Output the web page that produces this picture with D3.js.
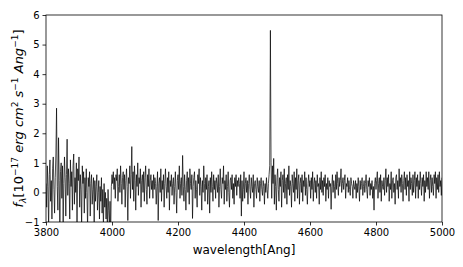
<!DOCTYPE html>
<html>
<head>
<meta charset="utf-8">
<script src="https://cdn.jsdelivr.net/npm/d3@7"></script>
<style>
body { margin: 0; background: #fff; }
text { font-family: "DejaVu Sans", sans-serif; fill: #000; }
</style>
</head>
<body>
<div id="chart-area"></div>
<script>
// Spectrum data (segments: start/end wavelength, flux)
var seg1Range = [3800, 3998];
var seg1Flux = [0.3, -0.5, 0.9, 0.2, -1.2, 0.6, 1.1, -0.3, 0.4, -0.9, 0.8, 1.2, 0.1, -0.7, 0.5, 1.3,
	2.85, 0.2, -0.6, 1.85, 0.4, -1.3, 0.7, 1.0, -0.2, 0.9, -1.1, 0.3, 1.2, 0.5, -0.8, 0.6,
	1.8, -0.1, 0.8, 0.3, -0.9, 1.1, 0.2, 0.7, -0.6, 0.9, 1.3, -0.4, 0.5, 0.0, 1.0, -1.3,
	0.8, 0.4, 1.2, -0.5, 0.6, 0.1, -1.1, 0.9, 0.3, 0.7, -0.7, 0.5, -0.2, 0.8, 0.0, -1.2,
	0.5, 0.2, 0.7, -0.8, 0.3, 0.6, -0.4, 0.1, 0.5, -1.0, 0.4, -0.3, 0.2, 0.6, -0.6, 0.0,
	0.4, -0.9, 0.2, -0.3, 0.5, -0.7, 0.1, -1.2, 0.3, -0.5, 0.0, -0.9, -0.2, -1.3, 0.1, -0.6, -1.1, -0.3, -1.4, 0.2];

var seg2Range = [4000, 4120];
var seg2Flux = [0.6, 0.3, 0.7, 0.1, 0.5, -0.2, 0.6, 0.4, 0.8, -0.3, 0.2, 0.6, 0.0, 0.9, 0.3, -0.4,
	0.5, 0.7, 0.1, 0.6, -0.5, 0.4, 0.8, 0.2, -0.95, 0.5, 0.3, 0.9, -0.2, 0.6, 1.55, 0.1,
	0.7, -0.3, 0.9, 0.4, -0.6, 0.6, 0.2, 1.0, -0.1, 0.5, 0.3, 0.8, -0.5, 0.4, 0.6, 0.0,
	0.7, -0.3, 0.5, 0.9, 0.1, -0.4, 0.6, 0.2, 0.8, -0.2, 0.4, 0.6, 0.1];

var seg3Range = [4122, 4476];
var seg3Flux = [0.4, -0.2, 0.6, 0.1, 0.5, 0.3, -0.4, 0.2, 0.7, -0.95, 0.3, 0.5, 0.0, 0.8, -0.3, 0.4,
	0.1, 0.6, -0.5, 0.3, 0.8, 0.2, -0.2, 0.5, 0.0, 0.7, -0.6, 0.4, 0.2, 0.6, -0.1, 0.3,
	0.5, -0.4, 0.2, 0.7, 0.0, -0.7, 0.4, 0.6, 0.1, 0.9, -0.2, 0.3, 0.5, -0.1, 1.25, 0.2,
	-0.3, 0.6, 0.1, -0.6, 0.4, 0.7, 0.0, 0.5, -0.4, 0.8, 0.3, 0.1, 0.6, -0.88, 0.2, 0.5,
	0.7, -0.2, 0.4, 0.1, -0.5, 0.6, 0.3, 0.8, -0.1, 0.5, 0.2, -0.6, 0.4, 0.0, 0.9, 0.3,
	-0.3, 0.5, 0.1, 0.6, -0.4, 0.2, 0.4, -0.7, 0.5, 0.0, 0.7, 0.2, -0.3, 0.6, 0.1, 0.4,
	-0.2, 0.5, 0.3, 0.0, 0.6, -0.5, 0.2, 0.8, 0.1, -0.2, 0.5, 0.3, 0.9, -0.4, 0.4, 0.1,
	0.6, -0.3, 0.2, 0.7, 0.0, -0.5, 0.4, 0.5, 0.1, 0.6, -0.2, 0.3, -0.4, 0.5, 0.2, 0.6,
	-0.1, 0.4, 0.2, 0.5, 0.3, -0.2, 0.6, -0.8, 0.4, -0.3, 0.1, 0.7, -0.2, 0.3, 0.5, 0.0,
	0.4, -0.4, 0.3, 0.6, 0.1, -0.2, 0.5, 0.2, 0.0, 0.6, -0.5, 0.3, 0.4, 0.1, -0.2, 0.5,
	0.2, 0.0, 0.4, -0.3, 0.3, 0.5, 0.1, -0.1, 0.4, 0.2, -0.4, 0.3, 0.0, 0.5, 0.1, -0.2, 0.3, 0.6];

var seg4Range = [4478, 5000];
var seg4Flux = [0.9, 5.48, 1.0, -0.2, 0.9, 0.3, 1.15, -0.4, 0.6, 0.2, -0.6, 0.5, 0.8, 0.1, -0.3, 0.5,
	0.2, 0.7, -0.5, 0.4, 0.6, 0.0, 0.8, -0.2, 0.3, 0.5, -0.4, 0.6, 0.1, 0.9, -0.1, 0.4,
	0.2, -0.5, 0.6, 0.3, 0.0, 0.7, -0.3, 0.5, 0.1, 0.8, -0.2, 0.4, 0.6, -0.4, 0.3, 0.5,
	0.0, 0.6, -0.3, 0.4, 0.2, 0.7, -0.1, 0.5, 0.1, -0.4, 0.3, 0.6, 0.2, 0.4, -0.2, 0.5,
	0.1, 0.7, -0.3, 0.3, 0.5, 0.0, 0.4, -0.2, 0.6, 0.2, 0.3, -0.4, 0.5, 0.1, 0.7, 0.0,
	0.4, -0.1, 0.5, 0.2, 0.6, -0.3, 0.3, 0.1, 0.5, -0.2, 0.4, 0.2, 0.3, -0.57, 0.2, 0.6,
	0.0, 0.4, 0.2, -0.2, 0.6, 0.1, 0.7, 0.3, -0.1, 0.5, 0.2, 0.4, 0.8, 0.0, 0.3, 0.5,
	0.1, 0.4, 0.6, -0.2, 0.3, 0.2, 0.5, 0.0, 0.4, 0.1, -0.1, 0.5, 0.3, 0.2, -0.2, 0.4,
	0.2, 0.1, 0.4, -0.2, 0.3, 0.0, 0.5, 0.2, -0.3, 0.4, 0.1, 0.3, 0.5, -0.1, 0.2, 0.4,
	0.0, 0.3, 0.6, 0.1, -0.2, 0.4, 0.2, 0.5, -0.1, 0.3, 0.1, 0.4, -0.2, 0.2, -0.6, 0.3,
	0.5, 0.1, 0.4, 0.7, -0.2, 0.3, 0.5, 0.0, 0.6, -0.3, 0.4, 0.2, 0.1, 0.5, -0.1, 0.4,
	0.8, 0.0, 0.5, 0.2, 0.6, -0.3, 0.3, 0.1, 0.7, -0.2, 0.4, 0.5, 0.0, 0.3, -0.4, 0.5,
	0.6, 0.1, 0.4, -0.2, 0.8, 0.2, 0.5, 0.0, 0.6, 0.3, -0.3, 0.4, 0.7, 0.1, 0.5, -0.1,
	0.6, 0.2, 0.4, -0.3, 0.7, 0.1, 0.5, 0.3, -0.1, 0.6, 0.0, 0.4, 0.7, -0.2, 0.5, 0.2,
	0.6, -0.2, 0.4, 0.1, 0.7, 0.3, -0.1, 0.5, 0.2, 0.6, -0.3, 0.4, 0.0, 0.7, 0.2, 0.5,
	0.1, 0.7, -0.2, 0.4, 0.6, 0.0, 0.5, 0.2, -0.1, 0.6, 0.3, 0.7, -0.2, 0.5, 0.1, 0.6,
	0.0, 0.7, 0.2, 0.4, -0.1, 0.5];

var xTicks = [3800, 4000, 4200, 4400, 4600, 4800, 5000];
var yTicks = [-1, 0, 1, 2, 3, 4, 5, 6];

// Obszar wykresu
var margin = { left: 46, right: 21, top: 15, bottom: 45 };
var width = 463 - margin.left - margin.right;
var height = 267 - margin.top - margin.bottom;

var svg = d3.select("#chart-area")
	.append("svg")
	.attr("width", 463)
	.attr("height", 267);

var g = svg.append("g")
	.attr("transform", "translate(" + margin.left + "," + margin.top + ")");

var x = d3.scaleLinear().domain([3800, 5000]).range([0, width]);
var y = d3.scaleLinear().domain([-1, 6]).range([height, 0]);

// spread segments to points
function toPoints(range, flux) {
	var step = (range[1] - range[0]) / (flux.length - 1);
	return flux.map((f, i) => ({ wl: range[0] + i * step, f: f }));
}
var spectrum = [].concat(
	toPoints(seg1Range, seg1Flux),
	toPoints(seg2Range, seg2Flux),
	toPoints(seg3Range, seg3Flux),
	toPoints(seg4Range, seg4Flux)
);

svg.append("defs").append("clipPath").attr("id", "clip")
	.append("rect").attr("width", width).attr("height", height);

var line = d3.line().x(d => x(d.wl)).y(d => y(d.f));

g.append("path")
	.datum(spectrum)
	.attr("clip-path", "url(#clip)")
	.attr("fill", "none")
	.attr("stroke", "#000")
	.attr("stroke-width", 0.7)
	.attr("d", line);

//Osie
var xAxisCall = d3.axisBottom(x).tickValues(xTicks).tickSize(3.5).tickPadding(3).tickFormat(d3.format("d"));
g.append("g")
	.attr("transform", "translate(0," + height + ")")
	.call(xAxisCall);

var yAxisCall = d3.axisLeft(y).tickValues(yTicks).tickSize(3.5).tickPadding(3)
	.tickFormat(d => d < 0 ? "\u2212" + Math.abs(d) : d);
g.append("g").call(yAxisCall);

g.selectAll(".domain").remove();
g.selectAll(".tick line").attr("stroke", "#000").attr("stroke-width", 0.8);
g.selectAll(".tick text").attr("font-size", "10px").attr("font-family", "DejaVu Sans");

// frame
g.append("rect")
	.attr("width", width)
	.attr("height", height)
	.attr("fill", "none")
	.attr("stroke", "#000")
	.attr("stroke-width", 0.8);

//Etykiety
g.append("text")
	.attr("x", width / 2)
	.attr("y", height + 32)
	.attr("font-size", "12px")
	.attr("text-anchor", "middle")
	.text("wavelength[Ang]");

var yl = g.append("text")
	.attr("transform", "translate(-23," + (height / 2) + ") rotate(-90)")
	.attr("font-size", "13px")
	.attr("text-anchor", "middle");
yl.append("tspan").attr("font-style", "italic").text("f");
yl.append("tspan").attr("font-style", "italic").attr("font-size", "9px").attr("dy", 2.5).text("\u03bb");
yl.append("tspan").attr("dy", -2.5).text("[10");
yl.append("tspan").attr("font-size", "9px").attr("dy", -5).text("\u221217");
yl.append("tspan").attr("dy", 5).attr("font-style", "italic").text(" erg cm");
yl.append("tspan").attr("font-size", "9px").attr("dy", -5).text("2");
yl.append("tspan").attr("dy", 5).attr("font-style", "italic").text(" s");
yl.append("tspan").attr("font-size", "9px").attr("dy", -5).text("\u22121");
yl.append("tspan").attr("dy", 5).attr("font-style", "italic").text(" Ang");
yl.append("tspan").attr("font-size", "9px").attr("dy", -5).text("\u22121");
yl.append("tspan").attr("dy", 5).text("]");
</script>
</body>
</html>
